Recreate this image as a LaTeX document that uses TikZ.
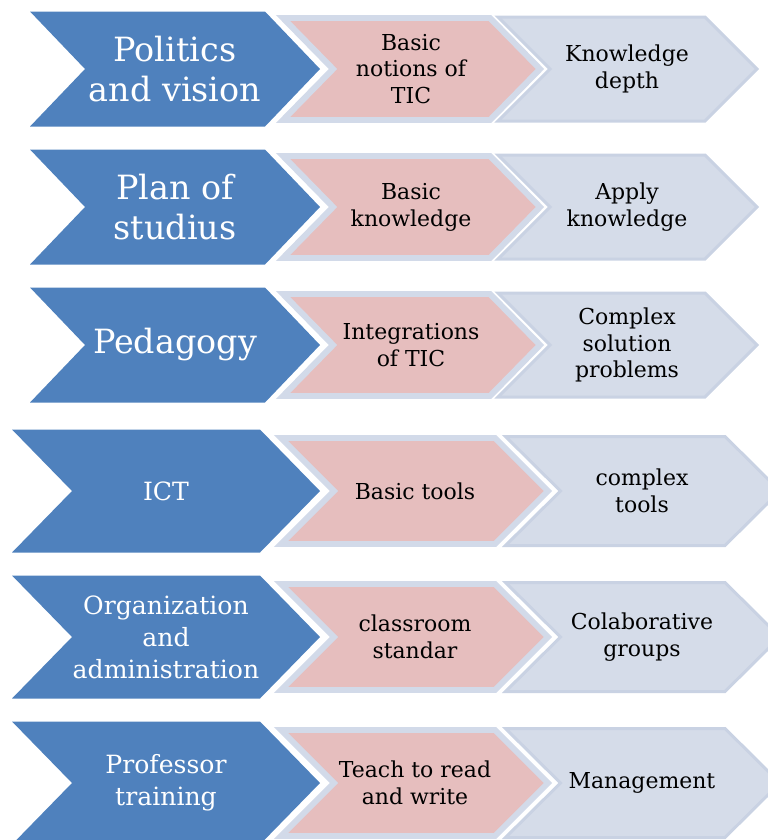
\documentclass[tikz,border=0pt]{standalone}
\usepackage{fontspec}
\setmainfont{DejaVu Serif}
\usepackage{tikz}

\definecolor{leadblue}{RGB}{79,129,189}
\definecolor{basicpink}{RGB}{230,190,190}
\definecolor{glowgrey}{RGB}{210,218,233}
\definecolor{depthgrey}{RGB}{213,220,233}
\definecolor{depthedge}{RGB}{201,210,227}

% chevron: style, left x, corner x, centre y, half height, point depth
\newcommand{\chev}[6]{%
  \path[#1] (#2,#4-#5) -- (#3,#4-#5) -- (#3+#6,#4) -- (#3,#4+#5)
    -- (#2,#4+#5) -- (#2+#6,#4) -- cycle;}

\begin{document}
\begin{tikzpicture}[
  x=0.02cm,y=-0.02cm,
  lead/.style={fill=leadblue},
  basic/.style={fill=basicpink,draw=glowgrey,line width=3.4pt,line join=miter},
  deep/.style={fill=depthgrey,draw=depthedge,line width=1.7pt,line join=miter},
  bigtext/.style={text=white,align=center,font=\fontsize{19}{22.7}\selectfont},
  leadtext/.style={text=white,align=center,font=\fontsize{14.3}{18.2}\selectfont},
  stagetext/.style={text=black,align=center,font=\fontsize{12.5}{15.3}\selectfont}
]
\useasboundingbox (0,0) rectangle (768,840);
\clip (0,0) rectangle (768,840);

% upper rows
\chev{lead}{30}{265}{69}{57.5}{55}
\chev{basic}{283}{490}{69}{51}{50}
\chev{deep}{498}{705}{69}{52}{52}
\chev{lead}{30}{265}{207}{57.5}{55}
\chev{basic}{283}{490}{207}{51}{50}
\chev{deep}{498}{705}{207}{52}{52}
\chev{lead}{30}{265}{345}{57.5}{55}
\chev{basic}{283}{490}{345}{51}{50}
\chev{deep}{498}{705}{345}{52}{52}

% lower rows
\chev{lead}{12}{260}{491}{61.5}{60}
\chev{basic}{281}{495}{491}{53}{53}
\chev{deep}{505.5}{725}{491}{54.5}{55}
\chev{lead}{12}{260}{637}{61.5}{60}
\chev{basic}{281}{495}{637}{53}{53}
\chev{deep}{505.5}{725}{637}{54.5}{55}
\chev{lead}{12}{260}{783}{61.5}{60}
\chev{basic}{281}{495}{783}{53}{53}
\chev{deep}{505.5}{725}{783}{54.5}{55}

\node[bigtext] (politics) at (175,69) {Politics\\and vision};
\node[stagetext] (notions) at (411,69) {Basic\\notions of\\TIC};
\node[stagetext] (depth) at (627,69) {Knowledge\\depth};

\node[bigtext] (plan) at (175,207) {Plan of\\studius};
\node[stagetext] (knowledge) at (411,207) {Basic\\knowledge};
\node[stagetext] (apply) at (627,207) {Apply\\knowledge};

\node[bigtext] (pedagogy) at (175,345) {Pedagogy};
\node[stagetext] (integration) at (411,345) {Integrations\\of TIC};
\node[stagetext] (complex) at (627,345) {Complex\\solution\\problems};

\node[leadtext] (ict) at (166,491) {ICT};
\node[stagetext] (tools) at (415,491) {Basic tools};
\node[stagetext] (complextools) at (642,491) {complex\\tools};

\node[leadtext] (organization) at (166,637) {Organization\\and\\administration};
\node[stagetext] (classroom) at (415,637) {classroom\\standar};
\node[stagetext] (groups) at (642,637) {Colaborative\\groups};

\node[leadtext] (training) at (166,783) {Professor\\training};
\node[stagetext] (literacy) at (415,783) {Teach to read\\and write};
\node[stagetext] (management) at (642,783) {Management};
\end{tikzpicture}
\end{document}
